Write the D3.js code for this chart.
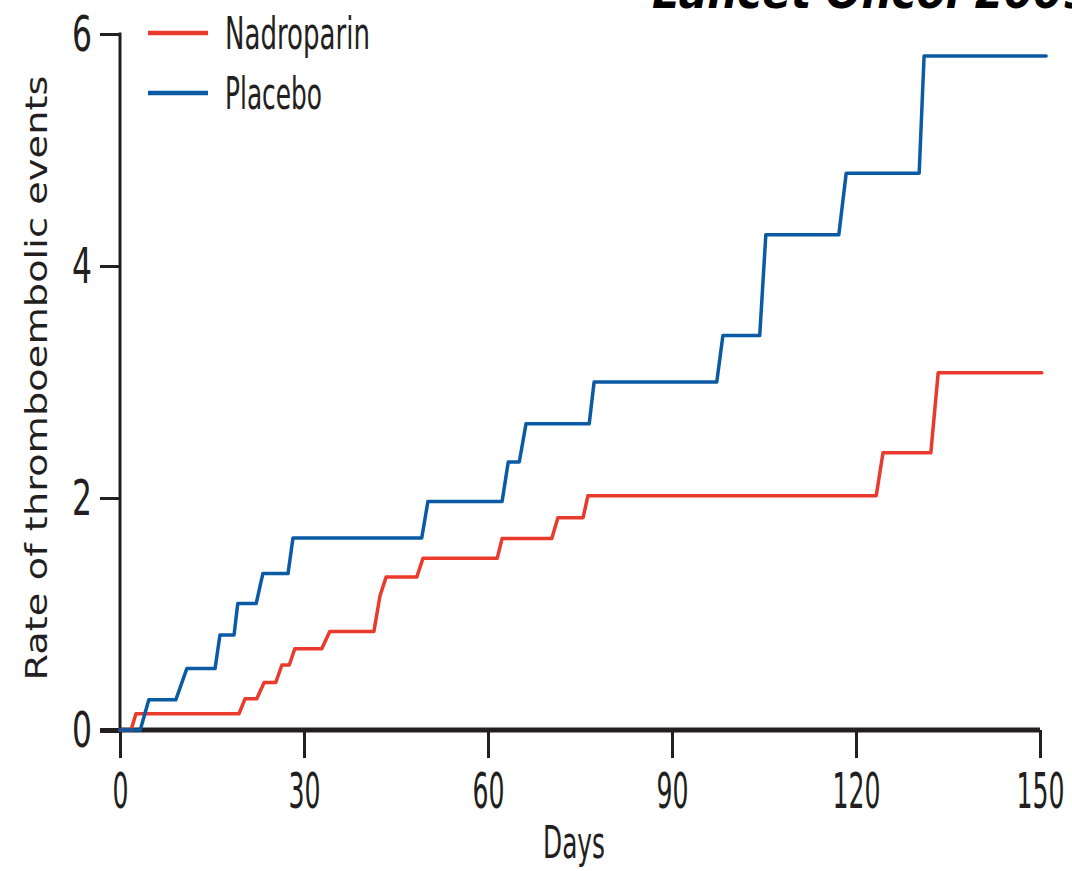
<!DOCTYPE html>
<html lang="en">
<head>
<meta charset="UTF-8"/>
<title>Rate of thromboembolic events</title>
<script src="https://d3js.org/d3.v7.min.js"></script>
<style>
    body { margin: 0; background: #fff; }
    svg  { display: block; }
    .axis text { font-family: "Liberation Sans Narrow", "DejaVu Sans Condensed", "Liberation Sans", sans-serif; fill: #231f20; }
</style>
</head>
<body>
<script>
// corners of each step curve (day, rate)
var nadroDays = [0, 1.8, 2.6, 19.4, 20.4, 22.3, 23.5, 25.4, 26.4, 27.6, 28.5, 32.9, 34.2, 41.4, 42.4, 43.4,
                 48.4, 49.4, 61.5, 62.3, 70.4, 71.4, 75.5, 76.3, 123.3, 124.4, 132.2, 133.4, 150.3];
var nadroRate = [0, 0, 0.14, 0.14, 0.27, 0.27, 0.41, 0.41, 0.56, 0.56, 0.70, 0.70, 0.85, 0.85, 1.16, 1.32,
                 1.32, 1.48, 1.48, 1.65, 1.65, 1.83, 1.83, 2.02, 2.02, 2.39, 2.39, 3.08, 3.08];

var placeboDays = [0, 3.3, 4.7, 9.1, 10.9, 15.5, 16.3, 18.6, 19.2, 22.2, 23.3, 27.4, 28.2, 49.2, 50.2,
                   62.3, 63.3, 65.1, 66.2, 76.5, 77.3, 97.3, 98.3, 104.3, 105.3, 117.2, 118.4, 130.3, 131.1, 151];
var placeboRate = [0, 0, 0.26, 0.26, 0.53, 0.53, 0.82, 0.82, 1.09, 1.09, 1.35, 1.35, 1.655, 1.655, 1.97,
                   1.97, 2.31, 2.31, 2.64, 2.64, 3.0, 3.0, 3.4, 3.4, 4.27, 4.27, 4.8, 4.8, 5.81, 5.81];

var xTicks = [0, 30, 60, 90, 120, 150];
var yTicks = [0, 2, 4, 6];
var seriesNames = ["Nadroparin", "Placebo"];
var seriesColors = ["#ea3a2c", "#0b5aa4"];

var w = 1072, h = 871;
var ink = "#231f20";

var x = d3.scaleLinear().domain([0, 150]).range([120, 1040]);
var y = d3.scaleLinear().domain([0, 6]).range([730, 34]);

var svg = d3.select("body").append("svg")
    .attr("width", w)
    .attr("height", h);

// source note at the very top, cut off by the edge
svg.append("text")
    .attr("x", 652)
    .attr("y", 8)
    .attr("font-family", "DejaVu Sans, sans-serif")
    .attr("font-weight", "bold")
    .attr("font-style", "italic")
    .attr("font-size", 46)
    .attr("textLength", 440)
    .attr("lengthAdjust", "spacingAndGlyphs")
    .text("Lancet Oncol 2009");

// x axis
var gx = svg.append("g")
    .attr("class", "axis")
    .attr("transform", "translate(0,730)")
    .call(d3.axisBottom(x).tickValues(xTicks).tickFormat(d3.format("d"))
        .tickSize(28).tickSizeOuter(0).tickPadding(14));
gx.select(".domain").attr("stroke", ink).attr("stroke-width", 5)
    .attr("d", "M" + x(0) + ",0H" + x(150));
gx.selectAll(".tick line").attr("stroke", ink).attr("stroke-width", 3);
gx.selectAll(".tick text")
    .attr("font-size", 50)
    .attr("textLength", function(d){ return String(d).length * 16; })
    .attr("lengthAdjust", "spacingAndGlyphs");

// y axis
var gy = svg.append("g")
    .attr("class", "axis")
    .attr("transform", "translate(120,0)")
    .call(d3.axisLeft(y).tickValues(yTicks).tickFormat(d3.format("d"))
        .tickSize(20).tickSizeOuter(0).tickPadding(8));
gy.select(".domain").attr("stroke", ink).attr("stroke-width", 3)
    .attr("d", "M0," + (y(0) + 2) + "V" + (y(6) - 1.5));
gy.selectAll(".tick line").attr("stroke", ink)
    .attr("stroke-width", function(d){ return d === 0 ? 5 : 3; });
gy.selectAll(".tick text")
    .attr("font-size", 50)
    .attr("textLength", 20)
    .attr("lengthAdjust", "spacingAndGlyphs");

// axis titles
svg.append("text")
    .attr("x", 574)
    .attr("y", 858)
    .attr("text-anchor", "middle")
    .attr("font-family", "Liberation Sans Narrow, DejaVu Sans Condensed, sans-serif")
    .attr("font-size", 44)
    .attr("fill", ink)
    .attr("textLength", 62)
    .attr("lengthAdjust", "spacingAndGlyphs")
    .text("Days");

svg.append("text")
    .attr("transform", "translate(47,378) rotate(-90)")
    .attr("text-anchor", "middle")
    .attr("font-family", "DejaVu Sans, sans-serif")
    .attr("font-size", 31)
    .attr("fill", ink)
    .attr("textLength", 605)
    .attr("lengthAdjust", "spacingAndGlyphs")
    .text("Rate of thromboembolic events");

// curves
var line = d3.line()
    .x(function(d){ return x(d[0]); })
    .y(function(d){ return y(d[1]); });

var series = [d3.zip(nadroDays, nadroRate), d3.zip(placeboDays, placeboRate)];

svg.selectAll("path.curve")
    .data(series)
    .enter()
    .append("path")
    .attr("class", "curve")
    .attr("fill", "none")
    .attr("stroke", function(d, i){ return seriesColors[i]; })
    .attr("stroke-width", 3.5)
    .attr("stroke-linejoin", "round")
    .attr("stroke-linecap", "round")
    .attr("d", line);

// legend
var legend = svg.selectAll("g.legend")
    .data(seriesNames)
    .enter()
    .append("g")
    .attr("class", "legend")
    .attr("transform", function(d, i){ return "translate(148," + (33 + i * 60) + ")"; });

legend.append("line")
    .attr("x1", 0).attr("x2", 60)
    .attr("stroke", function(d, i){ return seriesColors[i]; })
    .attr("stroke-width", 4.5);

legend.append("text")
    .attr("x", 77)
    .attr("y", 16)
    .attr("font-family", "Liberation Sans Narrow, DejaVu Sans Condensed, sans-serif")
    .attr("font-size", 44)
    .attr("fill", ink)
    .attr("textLength", function(d){ return d === "Nadroparin" ? 145 : 97; })
    .attr("lengthAdjust", "spacingAndGlyphs")
    .text(function(d){ return d; });
</script>
</body>
</html>
